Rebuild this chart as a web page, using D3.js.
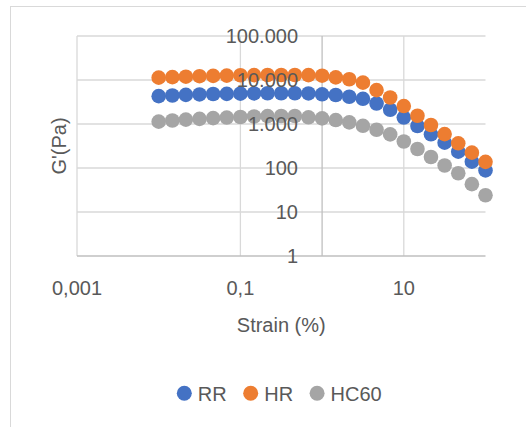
<!DOCTYPE html>
<html>
<head>
<meta charset="utf-8">
<script src="https://cdn.jsdelivr.net/npm/d3@7"></script>
<style>
  html, body { margin: 0; padding: 0; background: #fff; }
  svg { display: block; }
  text { font-family: "Liberation Sans", Arial, sans-serif; fill: #595959; }
</style>
</head>
<body>
<svg id="chart" width="526" height="427"></svg>
<script>
// ---- data ----
const strain = [0.01, 0.0147, 0.0215, 0.0316, 0.0464, 0.0681, 0.1, 0.147, 0.215, 0.316, 0.464, 0.681,
                1, 1.47, 2.15, 3.16, 4.64, 6.81, 10, 14.7, 21.5, 31.6, 46.4, 68.1, 100];
const RR   = [4300, 4450, 4600, 4700, 4800, 4850, 4900, 4950, 5000, 5000, 5000, 4950,
              4730, 4560, 4170, 3740, 2920, 2110, 1400, 900, 583, 376, 235, 139, 88];
const HR   = [11300, 11600, 11900, 12200, 12400, 12600, 12800, 12900, 13000, 13000, 13000, 12900,
              12530, 11500, 10400, 8700, 5900, 4000, 2560, 1540, 950, 590, 364, 223, 138];
const HC60 = [1130, 1200, 1260, 1310, 1360, 1400, 1440, 1480, 1510, 1520, 1520, 1420,
              1340, 1230, 1090, 910, 740, 580, 400, 270, 178, 114, 76, 43, 24];
const seriesNames = ["RR", "HR", "HC60"];
const seriesColors = ["#4472C4", "#ED7D31", "#A5A5A5"];
const xTicks = [0.001, 0.1, 10];
const xTickLabels = ["0,001", "0,1", "10"];
const yTicks = [1, 10, 100, 1000, 10000, 100000];
const yTickLabels = ["1", "10", "100", "1.000", "10.000", "100.000"];
const xTitle = "Strain (%)";
const yTitle = "G'(Pa)";

const series = [RR, HR, HC60];

const svg = d3.select("#chart");

// chart frame
svg.append("rect")
  .attr("x", 10.5).attr("y", 6.5)
  .attr("width", 700).attr("height", 600)
  .attr("fill", "none").attr("stroke", "#D9D9D9").attr("stroke-width", 1);

const x = d3.scaleLog().domain([0.001, 100]).range([77, 485.5]);
const y = d3.scaleLog().domain([1, 100000]).range([256, 36]);

// horizontal gridlines
svg.append("g").selectAll("line").data(yTicks.slice(1)).join("line")
  .attr("x1", x.range()[0]).attr("x2", x.range()[1])
  .attr("y1", d => y(d)).attr("y2", d => y(d))
  .attr("stroke", "#D9D9D9").attr("stroke-width", 1.3);

// vertical gridlines
svg.append("g").selectAll("line").data(xTicks).join("line")
  .attr("x1", d => x(d)).attr("x2", d => x(d))
  .attr("y1", y.range()[0]).attr("y2", y.range()[1])
  .attr("stroke", "#D9D9D9").attr("stroke-width", 1.3);

// horizontal axis line (at y=1)
svg.append("line")
  .attr("x1", x.range()[0]).attr("x2", x.range()[1])
  .attr("y1", y(1)).attr("y2", y(1))
  .attr("stroke", "#BFBFBF").attr("stroke-width", 1.3);

// vertical axis line at x = 1
svg.append("line")
  .attr("x1", x(1)).attr("x2", x(1))
  .attr("y1", y.range()[0]).attr("y2", y.range()[1])
  .attr("stroke", "#BFBFBF").attr("stroke-width", 1.3);

// markers
series.forEach((vals, si) => {
  svg.append("g").selectAll("circle").data(vals).join("circle")
    .attr("cx", (d, i) => x(strain[i]))
    .attr("cy", d => y(d))
    .attr("r", 7.3)
    .attr("fill", seriesColors[si]);
});

// y tick labels (drawn above markers)
svg.append("g").selectAll("text").data(yTicks).join("text")
  .attr("x", 298).attr("y", d => y(d))
  .attr("dy", "0.36em")
  .attr("text-anchor", "end")
  .attr("font-size", 20)
  .text((d, i) => yTickLabels[i]);

// x tick labels
svg.append("g").selectAll("text").data(xTicks).join("text")
  .attr("x", d => x(d)).attr("y", 295)
  .attr("text-anchor", "middle")
  .attr("font-size", 20)
  .text((d, i) => xTickLabels[i]);

// axis titles
svg.append("text")
  .attr("x", (x.range()[0] + x.range()[1]) / 2).attr("y", 331.5)
  .attr("text-anchor", "middle").attr("font-size", 20)
  .text(xTitle);

svg.append("text")
  .attr("transform", `translate(66,${(y.range()[0] + y.range()[1]) / 2}) rotate(-90)`)
  .attr("text-anchor", "middle").attr("font-size", 20)
  .text(yTitle);

// legend
const lg = svg.append("g");
let cx = 184.3;
seriesNames.forEach((name, i) => {
  lg.append("circle").attr("cx", cx).attr("cy", 393.3).attr("r", 7.5).attr("fill", seriesColors[i]);
  const t = lg.append("text").attr("x", cx + 13.5).attr("y", 400.5)
    .attr("font-size", 20).text(name);
  const w = t.node().getComputedTextLength();
  cx = cx + 13.5 + w + 24;
});
</script>
</body>
</html>
